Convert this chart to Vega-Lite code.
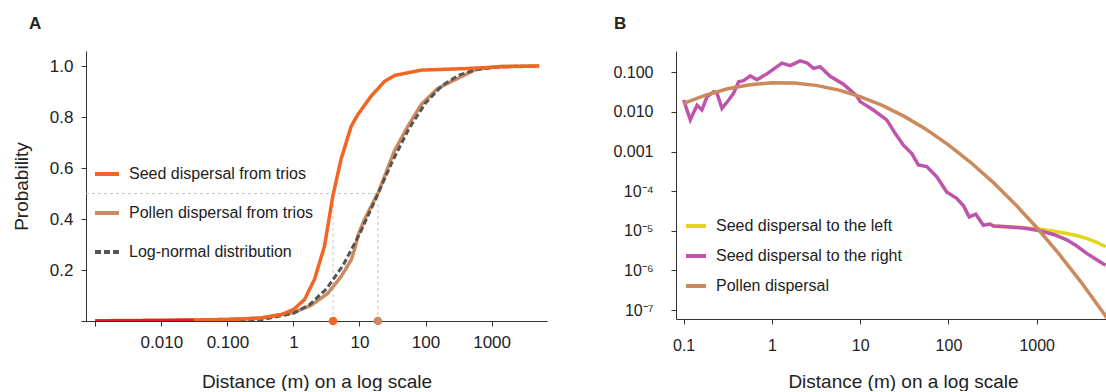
{
  "$schema": "https://vega.github.io/schema/vega-lite/v6.json",
  "padding": {"left": 12, "top": 15, "right": 0, "bottom": 0},
  "config": {"view": {"stroke": null}, "font": "Liberation Sans",
    "axis": {"grid": false, "domainColor": "#333", "tickColor": "#333", "labelColor": "#222", "titleColor": "#222", "titleFontWeight": "normal", "labelFlush": false, "labelOverlap": false, "tickSize": 5}},
  "datasets": {
    "cdfA": [
      {"series": "Pollen dispersal from trios", "distance": 0.001, "prob": 0.0},
      {"series": "Pollen dispersal from trios", "distance": 0.01, "prob": 0.002},
      {"series": "Pollen dispersal from trios", "distance": 0.1, "prob": 0.006},
      {"series": "Pollen dispersal from trios", "distance": 0.316, "prob": 0.012},
      {"series": "Pollen dispersal from trios", "distance": 1, "prob": 0.033},
      {"series": "Pollen dispersal from trios", "distance": 1.86, "prob": 0.062},
      {"series": "Pollen dispersal from trios", "distance": 3.31, "prob": 0.108},
      {"series": "Pollen dispersal from trios", "distance": 5.25, "prob": 0.174},
      {"series": "Pollen dispersal from trios", "distance": 7.5, "prob": 0.24},
      {"series": "Pollen dispersal from trios", "distance": 8.51, "prob": 0.285},
      {"series": "Pollen dispersal from trios", "distance": 9.46, "prob": 0.335},
      {"series": "Pollen dispersal from trios", "distance": 11.9, "prob": 0.398},
      {"series": "Pollen dispersal from trios", "distance": 16.9, "prob": 0.476},
      {"series": "Pollen dispersal from trios", "distance": 19.0, "prob": 0.5},
      {"series": "Pollen dispersal from trios", "distance": 33.9, "prob": 0.668},
      {"series": "Pollen dispersal from trios", "distance": 54.1, "prob": 0.764},
      {"series": "Pollen dispersal from trios", "distance": 86.1, "prob": 0.849},
      {"series": "Pollen dispersal from trios", "distance": 151, "prob": 0.911},
      {"series": "Pollen dispersal from trios", "distance": 248, "prob": 0.94},
      {"series": "Pollen dispersal from trios", "distance": 407, "prob": 0.967},
      {"series": "Pollen dispersal from trios", "distance": 589, "prob": 0.988},
      {"series": "Pollen dispersal from trios", "distance": 1413, "prob": 0.999},
      {"series": "Pollen dispersal from trios", "distance": 5248, "prob": 1.0},
      {"series": "Log-normal distribution", "distance": 0.001, "prob": 0.0},
      {"series": "Log-normal distribution", "distance": 0.1, "prob": 0.0004},
      {"series": "Log-normal distribution", "distance": 0.316, "prob": 0.0044},
      {"series": "Log-normal distribution", "distance": 1, "prob": 0.03},
      {"series": "Log-normal distribution", "distance": 1.778, "prob": 0.065},
      {"series": "Log-normal distribution", "distance": 3.162, "prob": 0.126},
      {"series": "Log-normal distribution", "distance": 5.623, "prob": 0.218},
      {"series": "Log-normal distribution", "distance": 10, "prob": 0.34},
      {"series": "Log-normal distribution", "distance": 17.78, "prob": 0.482},
      {"series": "Log-normal distribution", "distance": 31.62, "prob": 0.627},
      {"series": "Log-normal distribution", "distance": 56.23, "prob": 0.755},
      {"series": "Log-normal distribution", "distance": 100, "prob": 0.855},
      {"series": "Log-normal distribution", "distance": 177.8, "prob": 0.923},
      {"series": "Log-normal distribution", "distance": 316.2, "prob": 0.964},
      {"series": "Log-normal distribution", "distance": 562.3, "prob": 0.985},
      {"series": "Log-normal distribution", "distance": 1000, "prob": 0.994},
      {"series": "Log-normal distribution", "distance": 1778, "prob": 0.998},
      {"series": "Log-normal distribution", "distance": 3162, "prob": 0.9995},
      {"series": "Seed dispersal from trios", "distance": 0.001, "prob": 0.001},
      {"series": "Seed dispersal from trios", "distance": 0.00316, "prob": 0.002},
      {"series": "Seed dispersal from trios", "distance": 0.01, "prob": 0.003},
      {"series": "Seed dispersal from trios", "distance": 0.0316, "prob": 0.004},
      {"series": "Seed dispersal from trios", "distance": 0.1, "prob": 0.006},
      {"series": "Seed dispersal from trios", "distance": 0.316, "prob": 0.011},
      {"series": "Seed dispersal from trios", "distance": 0.652, "prob": 0.025},
      {"series": "Seed dispersal from trios", "distance": 1, "prob": 0.045},
      {"series": "Seed dispersal from trios", "distance": 1.47, "prob": 0.084},
      {"series": "Seed dispersal from trios", "distance": 2.08, "prob": 0.163},
      {"series": "Seed dispersal from trios", "distance": 2.95, "prob": 0.293},
      {"series": "Seed dispersal from trios", "distance": 3.95, "prob": 0.49},
      {"series": "Seed dispersal from trios", "distance": 5.25, "prob": 0.634},
      {"series": "Seed dispersal from trios", "distance": 7.5, "prob": 0.764},
      {"series": "Seed dispersal from trios", "distance": 9.46, "prob": 0.81},
      {"series": "Seed dispersal from trios", "distance": 15.0, "prob": 0.882},
      {"series": "Seed dispersal from trios", "distance": 24.0, "prob": 0.94},
      {"series": "Seed dispersal from trios", "distance": 33.9, "prob": 0.963},
      {"series": "Seed dispersal from trios", "distance": 86.1, "prob": 0.984},
      {"series": "Seed dispersal from trios", "distance": 407, "prob": 0.99},
      {"series": "Seed dispersal from trios", "distance": 1413, "prob": 0.997},
      {"series": "Seed dispersal from trios", "distance": 5248, "prob": 1.0}
    ],
    "redA": [
      {"distance": 0.001, "prob": 0.001},
      {"distance": 0.00316, "prob": 0.0015},
      {"distance": 0.01, "prob": 0.002},
      {"distance": 0.031, "prob": 0.003}
    ],
    "guidesA": [
      {"distance": 0.000723, "distance2": 19.0, "prob": 0.5, "prob2": 0.5},
      {"distance": 3.98, "distance2": 3.98, "prob": 0, "prob2": 0.5},
      {"distance": 19.0, "distance2": 19.0, "prob": 0, "prob2": 0.5}
    ],
    "mediansA": [
      {"series": "Seed dispersal from trios", "distance": 3.98, "prob": 0},
      {"series": "Pollen dispersal from trios", "distance": 19.0, "prob": 0}
    ],
    "densB": [
      {"series": "Seed dispersal to the left", "distance": 309, "prob": 1.32e-5},
      {"series": "Seed dispersal to the left", "distance": 457, "prob": 1.26e-5},
      {"series": "Seed dispersal to the left", "distance": 708, "prob": 1.20e-5},
      {"series": "Seed dispersal to the left", "distance": 1096, "prob": 1.10e-5},
      {"series": "Seed dispersal to the left", "distance": 1585, "prob": 9.77e-6},
      {"series": "Seed dispersal to the left", "distance": 2188, "prob": 8.51e-6},
      {"series": "Seed dispersal to the left", "distance": 2818, "prob": 7.59e-6},
      {"series": "Seed dispersal to the left", "distance": 3681, "prob": 6.46e-6},
      {"series": "Seed dispersal to the left", "distance": 4786, "prob": 5.13e-6},
      {"series": "Seed dispersal to the left", "distance": 6026, "prob": 3.98e-6},
      {"series": "Seed dispersal to the right", "distance": 0.1, "prob": 0.02},
      {"series": "Seed dispersal to the right", "distance": 0.119, "prob": 0.00631},
      {"series": "Seed dispersal to the right", "distance": 0.142, "prob": 0.0148},
      {"series": "Seed dispersal to the right", "distance": 0.161, "prob": 0.0112},
      {"series": "Seed dispersal to the right", "distance": 0.184, "prob": 0.024},
      {"series": "Seed dispersal to the right", "distance": 0.219, "prob": 0.0324},
      {"series": "Seed dispersal to the right", "distance": 0.239, "prob": 0.0295},
      {"series": "Seed dispersal to the right", "distance": 0.272, "prob": 0.0123},
      {"series": "Seed dispersal to the right", "distance": 0.324, "prob": 0.02},
      {"series": "Seed dispersal to the right", "distance": 0.368, "prob": 0.0295},
      {"series": "Seed dispersal to the right", "distance": 0.42, "prob": 0.0575},
      {"series": "Seed dispersal to the right", "distance": 0.478, "prob": 0.0617},
      {"series": "Seed dispersal to the right", "distance": 0.569, "prob": 0.0813},
      {"series": "Seed dispersal to the right", "distance": 0.678, "prob": 0.0646},
      {"series": "Seed dispersal to the right", "distance": 0.879, "prob": 0.0912},
      {"series": "Seed dispersal to the right", "distance": 1.3, "prob": 0.17},
      {"series": "Seed dispersal to the right", "distance": 1.61, "prob": 0.148},
      {"series": "Seed dispersal to the right", "distance": 2.09, "prob": 0.195},
      {"series": "Seed dispersal to the right", "distance": 2.49, "prob": 0.174},
      {"series": "Seed dispersal to the right", "distance": 2.96, "prob": 0.126},
      {"series": "Seed dispersal to the right", "distance": 3.52, "prob": 0.138},
      {"series": "Seed dispersal to the right", "distance": 4.57, "prob": 0.0794},
      {"series": "Seed dispersal to the right", "distance": 6.46, "prob": 0.0501},
      {"series": "Seed dispersal to the right", "distance": 7.71, "prob": 0.0355},
      {"series": "Seed dispersal to the right", "distance": 9.18, "prob": 0.0251},
      {"series": "Seed dispersal to the right", "distance": 10, "prob": 0.0182},
      {"series": "Seed dispersal to the right", "distance": 14.1, "prob": 0.0112},
      {"series": "Seed dispersal to the right", "distance": 20.0, "prob": 0.00631},
      {"series": "Seed dispersal to the right", "distance": 24.9, "prob": 0.00288},
      {"series": "Seed dispersal to the right", "distance": 30.9, "prob": 0.00145},
      {"series": "Seed dispersal to the right", "distance": 38.5, "prob": 0.000891},
      {"series": "Seed dispersal to the right", "distance": 45.7, "prob": 0.000457},
      {"series": "Seed dispersal to the right", "distance": 56.9, "prob": 0.000417},
      {"series": "Seed dispersal to the right", "distance": 73.8, "prob": 0.000229},
      {"series": "Seed dispersal to the right", "distance": 95.5, "prob": 9.55e-5},
      {"series": "Seed dispersal to the right", "distance": 124, "prob": 6.61e-5},
      {"series": "Seed dispersal to the right", "distance": 148, "prob": 4.27e-5},
      {"series": "Seed dispersal to the right", "distance": 172, "prob": 2.24e-5},
      {"series": "Seed dispersal to the right", "distance": 204, "prob": 2.63e-5},
      {"series": "Seed dispersal to the right", "distance": 249, "prob": 1.38e-5},
      {"series": "Seed dispersal to the right", "distance": 295, "prob": 1.48e-5},
      {"series": "Seed dispersal to the right", "distance": 324, "prob": 1.32e-5},
      {"series": "Seed dispersal to the right", "distance": 457, "prob": 1.26e-5},
      {"series": "Seed dispersal to the right", "distance": 708, "prob": 1.17e-5},
      {"series": "Seed dispersal to the right", "distance": 1096, "prob": 1.0e-5},
      {"series": "Seed dispersal to the right", "distance": 1585, "prob": 7.94e-6},
      {"series": "Seed dispersal to the right", "distance": 2188, "prob": 5.89e-6},
      {"series": "Seed dispersal to the right", "distance": 2818, "prob": 4.17e-6},
      {"series": "Seed dispersal to the right", "distance": 3681, "prob": 2.69e-6},
      {"series": "Seed dispersal to the right", "distance": 4786, "prob": 1.86e-6},
      {"series": "Seed dispersal to the right", "distance": 6026, "prob": 1.35e-6},
      {"series": "Pollen dispersal", "distance": 0.1, "prob": 0.01636},
      {"series": "Pollen dispersal", "distance": 0.1778, "prob": 0.02666},
      {"series": "Pollen dispersal", "distance": 0.3162, "prob": 0.03829},
      {"series": "Pollen dispersal", "distance": 0.5623, "prob": 0.04862},
      {"series": "Pollen dispersal", "distance": 1, "prob": 0.05445},
      {"series": "Pollen dispersal", "distance": 1.778, "prob": 0.05372},
      {"series": "Pollen dispersal", "distance": 3.162, "prob": 0.04677},
      {"series": "Pollen dispersal", "distance": 5.623, "prob": 0.03598},
      {"series": "Pollen dispersal", "distance": 10, "prob": 0.02443},
      {"series": "Pollen dispersal", "distance": 17.78, "prob": 0.01462},
      {"series": "Pollen dispersal", "distance": 31.62, "prob": 0.00771},
      {"series": "Pollen dispersal", "distance": 56.23, "prob": 0.0036},
      {"series": "Pollen dispersal", "distance": 100, "prob": 0.001479},
      {"series": "Pollen dispersal", "distance": 177.8, "prob": 0.000536},
      {"series": "Pollen dispersal", "distance": 316.2, "prob": 0.0001715},
      {"series": "Pollen dispersal", "distance": 562.3, "prob": 4.84e-5},
      {"series": "Pollen dispersal", "distance": 1000, "prob": 1.208e-5},
      {"series": "Pollen dispersal", "distance": 1778, "prob": 2.65e-6},
      {"series": "Pollen dispersal", "distance": 3162, "prob": 5.14e-7},
      {"series": "Pollen dispersal", "distance": 5623, "prob": 8.81e-8},
      {"series": "Pollen dispersal", "distance": 7943, "prob": 2.88e-8}
    ]
  },
  "hconcat": [
    {
      "width": 461,
      "height": 270,
      "title": {"text": "A", "anchor": "start", "frame": "group", "fontSize": 17, "fontWeight": "bold", "color": "#222", "dx": -57, "offset": 18},
      "encoding": {
        "x": {"field": "distance", "type": "quantitative",
          "scale": {"type": "log", "domain": [0.000723, 6902], "nice": false},
          "axis": {"values": [0.001, 0.01, 0.1, 1, 10, 100, 1000],
            "labelExpr": "datum.value < 0.005 ? '' : datum.value < 1 ? format(datum.value, '.3f') : format(datum.value, 'd')",
            "title": "Distance (m) on a log scale", "labelFontSize": 17, "titleFontSize": 19, "labelPadding": 8, "titlePadding": 22}},
        "y": {"field": "prob", "type": "quantitative",
          "scale": {"domain": [0, 1.059], "nice": false, "zero": false},
          "axis": {"values": [0, 0.2, 0.4, 0.6, 0.8, 1.0],
            "labelExpr": "datum.value == 0 ? '' : format(datum.value, '.1f')",
            "title": "Probability", "labelFontSize": 17, "titleFontSize": 19, "labelPadding": 8, "titlePadding": 18}}
      },
      "layer": [
        {
          "data": {"name": "guidesA"},
          "mark": {"type": "rule", "color": "#c8c8c8", "strokeWidth": 1, "strokeDash": [3, 3]},
          "encoding": {"x2": {"field": "distance2"}, "y2": {"field": "prob2"}}
        },
        {
          "data": {"name": "cdfA"},
          "transform": [{"filter": "datum.series == 'Pollen dispersal from trios'"}],
          "mark": {"type": "line", "strokeWidth": 3.5, "clip": true},
          "encoding": {
            "color": {"field": "series", "type": "nominal",
              "scale": {"domain": ["Seed dispersal from trios", "Pollen dispersal from trios", "Log-normal distribution"], "range": ["#f26522", "#c98b5f", "#555555"]},
              "legend": {"orient": "none", "legendX": 7, "legendY": 109, "title": null, "symbolType": "stroke", "symbolSize": 576, "symbolStrokeWidth": 4, "labelFontSize": 16, "labelOffset": 8, "rowPadding": 17, "labelLimit": 400, "labelColor": "#222", "padding": 0}},
            "strokeDash": {"field": "series", "type": "nominal",
              "scale": {"domain": ["Seed dispersal from trios", "Pollen dispersal from trios", "Log-normal distribution"], "range": [[1, 0], [1, 0], [6, 3]]},
              "legend": {"orient": "none", "legendX": 7, "legendY": 109, "title": null, "symbolType": "stroke", "symbolSize": 576, "symbolStrokeWidth": 4, "labelFontSize": 16, "labelOffset": 8, "rowPadding": 17, "labelLimit": 400, "labelColor": "#222", "padding": 0}}
          }
        },
        {
          "data": {"name": "cdfA"},
          "transform": [{"filter": "datum.series == 'Log-normal distribution'"}],
          "mark": {"type": "line", "strokeWidth": 3, "clip": true},
          "encoding": {
            "color": {"field": "series", "type": "nominal"},
            "strokeDash": {"field": "series", "type": "nominal"}
          }
        },
        {
          "data": {"name": "cdfA"},
          "transform": [{"filter": "datum.series == 'Seed dispersal from trios'"}],
          "mark": {"type": "line", "strokeWidth": 3.5, "clip": true},
          "encoding": {
            "color": {"field": "series", "type": "nominal"},
            "strokeDash": {"field": "series", "type": "nominal"}
          }
        },
        {
          "data": {"name": "redA"},
          "mark": {"type": "line", "strokeWidth": 3, "color": "#e0201c", "clip": true},
          "encoding": {}
        },
        {
          "data": {"name": "mediansA"},
          "transform": [{"filter": "datum.series == 'Seed dispersal from trios'"}],
          "mark": {"type": "point", "filled": true, "size": 75, "opacity": 1, "color": "#f26522"},
          "encoding": {}
        },
        {
          "data": {"name": "mediansA"},
          "transform": [{"filter": "datum.series == 'Pollen dispersal from trios'"}],
          "mark": {"type": "point", "filled": true, "size": 75, "opacity": 1, "color": "#c98b5f"},
          "encoding": {}
        }
      ]
    },
    {
      "width": 430,
      "height": 268,
      "title": {"text": "B", "anchor": "start", "frame": "group", "fontSize": 17, "fontWeight": "bold", "color": "#222", "dx": -62, "offset": 18},
      "data": {"name": "densB"},
      "encoding": {
        "x": {"field": "distance", "type": "quantitative",
          "scale": {"type": "log", "domain": [0.082, 6095], "nice": false},
          "axis": {"values": [0.1, 1, 10, 100, 1000],
            "labelExpr": "datum.value < 1 ? '0.1' : format(datum.value, 'd')",
            "title": "Distance (m) on a log scale", "titleX": 227, "labelFontSize": 16, "titleFontSize": 19, "labelPadding": 13, "titlePadding": 19}},
        "y": {"field": "prob", "type": "quantitative",
          "scale": {"type": "log", "domain": [5.93e-8, 0.345], "nice": false},
          "axis": {"values": [0.1, 0.01, 0.001, 0.0001, 0.00001, 0.000001, 0.0000001],
            "labelExpr": "datum.value > 0.0005 ? format(datum.value, '.3f') : datum.value > 0.00005 ? '10⁻⁴' : datum.value > 0.000005 ? '10⁻⁵' : datum.value > 0.0000005 ? '10⁻⁶' : '10⁻⁷'",
            "title": null, "labelFontSize": 16, "labelPadding": 18}},
        "color": {"field": "series", "type": "nominal",
          "scale": {"domain": ["Seed dispersal to the left", "Seed dispersal to the right", "Pollen dispersal"], "range": ["#e3d51b", "#bf55aa", "#cb8a5c"]},
          "legend": {"orient": "none", "legendX": 8, "legendY": 163, "title": null, "symbolType": "stroke", "symbolSize": 400, "symbolStrokeWidth": 4, "labelFontSize": 16, "labelOffset": 8, "rowPadding": 10, "labelLimit": 400, "labelColor": "#222", "padding": 0}}
      },
      "layer": [
        {"transform": [{"filter": "datum.series == 'Seed dispersal to the left'"}], "mark": {"type": "line", "strokeWidth": 3.5, "clip": true}},
        {"transform": [{"filter": "datum.series == 'Seed dispersal to the right'"}], "mark": {"type": "line", "strokeWidth": 3.5, "clip": true}},
        {"transform": [{"filter": "datum.series == 'Pollen dispersal'"}], "mark": {"type": "line", "strokeWidth": 3.5, "clip": true}}
      ]
    }
  ],
  "spacing": 65,
  "resolve": {"scale": {"x": "independent", "y": "independent", "color": "independent", "strokeDash": "independent"}, "legend": {"color": "independent", "strokeDash": "independent"}, "axis": {"x": "independent", "y": "independent"}}
}
